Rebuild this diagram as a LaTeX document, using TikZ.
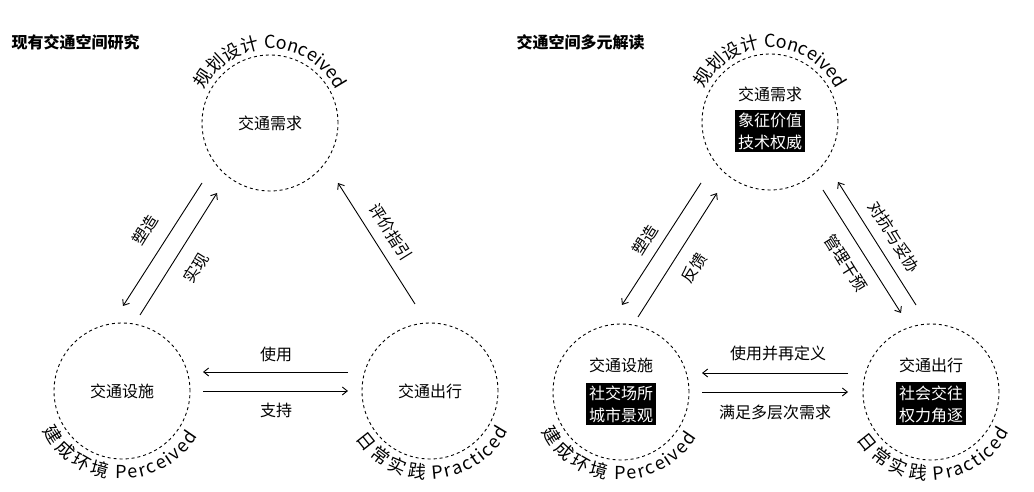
\documentclass[tikz,border=0pt]{standalone}
\usepackage{fontspec}
\setmainfont{Noto Sans CJK SC}
\usetikzlibrary{decorations.text,arrows.meta}
\begin{document}
\begin{tikzpicture}[x=1pt,y=1pt,
  circ/.style={circle,draw,dashed,line width=0.9pt,minimum size=136pt,inner sep=0pt},
  lab/.style={font=\fontsize{16}{18}\selectfont},
  arr/.style={line width=0.9pt,-{Straight Barb[length=5pt,width=8pt]}},
  blk/.style={fill=black,text=white,font=\fontsize{16}{22}\selectfont,align=center,inner sep=3pt},
  arctext/.style={decorate,decoration={text along path,text align=center,text={#1}}},
  arcbot/.style={decorate,decoration={text along path,text align=center,raise=-15pt,text={#1}}}]
\useasboundingbox (0,0) rectangle (1034,492);
% left diagram
\node[font=\bfseries\fontsize{16}{18}\selectfont,anchor=west] (t1) at (8,450) {现有交通空间研究};
\node[circ] (A) at (270,369) {};
\node[circ] (B) at (122,101) {};
\node[circ] (C) at (430,101) {};
\node[lab] at (A) {交通需求};
\node[lab] at (B) {交通设施};
\node[lab] at (C) {交通出行};
\path[arctext={|\fontsize{18}{18}\selectfont|规划设计 Conceived}] (A) ++(160:74) arc[start angle=160,end angle=20,radius=74];
\path[arcbot={|\fontsize{18}{18}\selectfont|建成环境 Perceived}] (B) ++(190:73) arc[start angle=190,end angle=345,radius=73];
\path[arcbot={|\fontsize{18}{18}\selectfont|日常实践 Practiced}] (C) ++(195:73) arc[start angle=195,end angle=350,radius=73];
\coordinate (a1) at (202,309); \coordinate (a2) at (123,186);
\coordinate (a3) at (140,177); \coordinate (a4) at (217,299);
\coordinate (a5) at (415,188); \coordinate (a6) at (338,309);
\coordinate (a7) at (348,120); \coordinate (a8) at (203,120);
\coordinate (a9) at (203,101); \coordinate (a10) at (348,101);
\draw[arr] (a1) -- (a2);
\draw[arr] (a3) -- (a4);
\draw[arr] (a5) -- (a6);
\draw[arr] (a7) -- (a8);
\draw[arr] (a9) -- (a10);
\node[lab,rotate=58] at (145,262) {塑造};
\node[lab,rotate=58] at (196,224) {实现};
\node[lab,rotate=-58] at (391,260) {评价指引};
\node[lab] at (276,138) {使用};
\node[lab] at (276,82) {支持};
% right diagram
\node[font=\bfseries\fontsize{16}{18}\selectfont,anchor=west] (t2) at (513,450) {交通空间多元解读};
\node[circ] (D) at (770,370) {};
\node[circ] (E) at (621,100) {};
\node[circ] (F) at (931,100) {};
\node[lab] at (770,398) {交通需求};
\node[blk] at (770,361) {象征价值\\技术权威};
\node[lab] at (621,127) {交通设施};
\node[blk] at (621,88) {社交场所\\城市景观};
\node[lab] at (931,127) {交通出行};
\node[blk] at (931,88) {社会交往\\权力角逐};
\path[arctext={|\fontsize{18}{18}\selectfont|规划设计 Conceived}] (D) ++(160:74) arc[start angle=160,end angle=20,radius=74];
\path[arcbot={|\fontsize{18}{18}\selectfont|建成环境 Perceived}] (E) ++(190:73) arc[start angle=190,end angle=345,radius=73];
\path[arcbot={|\fontsize{18}{18}\selectfont|日常实践 Practiced}] (F) ++(195:73) arc[start angle=195,end angle=350,radius=73];
\coordinate (b1) at (701,309); \coordinate (b2) at (622,187);
\coordinate (b3) at (638,175); \coordinate (b4) at (717,299);
\coordinate (b5) at (823,302); \coordinate (b6) at (901,179);
\coordinate (b7) at (916,187); \coordinate (b8) at (838,310);
\coordinate (b9) at (848,119); \coordinate (b10) at (702,119);
\coordinate (b11) at (702,100); \coordinate (b12) at (848,100);
\draw[arr] (b1) -- (b2);
\draw[arr] (b3) -- (b4);
\draw[arr] (b5) -- (b6);
\draw[arr] (b7) -- (b8);
\draw[arr] (b9) -- (b10);
\draw[arr] (b11) -- (b12);
\node[lab,rotate=58] at (645,252) {塑造};
\node[lab,rotate=58] at (694,224) {反馈};
\node[lab,rotate=-58] at (846,229) {管理干预};
\node[lab,rotate=-58] at (894,255) {对抗与妥协};
\node[lab] at (778,139) {使用并再定义};
\node[lab] at (775,80) {满足多层次需求};
\end{tikzpicture}
\end{document}
